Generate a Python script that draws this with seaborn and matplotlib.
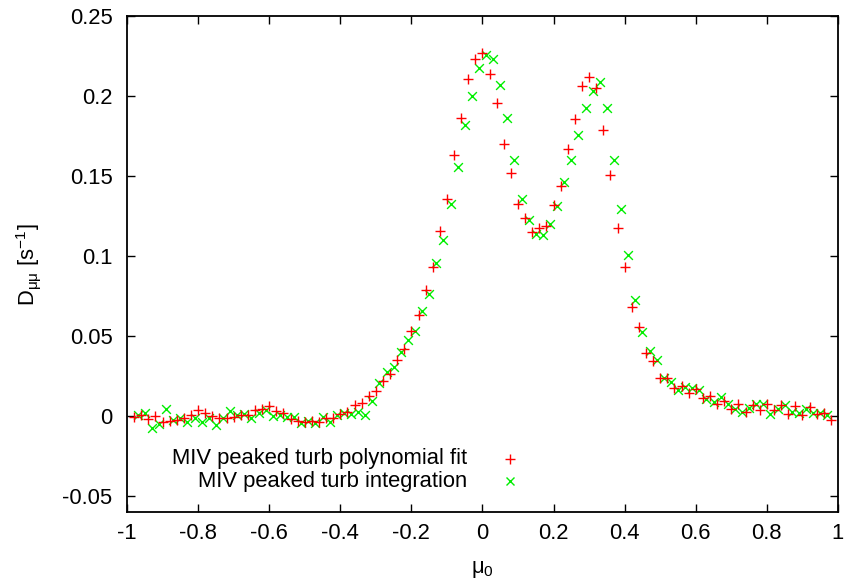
import matplotlib
matplotlib.use("Agg")
import matplotlib.pyplot as plt
import seaborn as sns
import pandas as pd

# ---- data ----
mu_fit = [-0.98, -0.96, -0.94, -0.92, -0.90, -0.88, -0.86, -0.84, -0.82, -0.80,
          -0.78, -0.76, -0.74, -0.72, -0.70, -0.68, -0.66, -0.64, -0.62, -0.60,
          -0.58, -0.56, -0.54, -0.52, -0.50, -0.48, -0.46, -0.44, -0.42, -0.40,
          -0.38, -0.36, -0.34, -0.32, -0.30, -0.28, -0.26, -0.24, -0.22, -0.20,
          -0.18, -0.16, -0.14, -0.12, -0.10, -0.08, -0.06, -0.04, -0.02, 0.00,
          0.02, 0.04, 0.06, 0.08, 0.10, 0.12, 0.14, 0.16, 0.18, 0.20,
          0.22, 0.24, 0.26, 0.28, 0.30, 0.32, 0.34, 0.36, 0.38, 0.40,
          0.42, 0.44, 0.46, 0.48, 0.50, 0.52, 0.54, 0.56, 0.58, 0.60,
          0.62, 0.64, 0.66, 0.68, 0.70, 0.72, 0.74, 0.76, 0.78, 0.80,
          0.82, 0.84, 0.86, 0.88, 0.90, 0.92, 0.94, 0.96, 0.98]
d_fit = [-0.0004, 0.0006, -0.0017, 0.0000, -0.0036, -0.0030, -0.0027, -0.0012, 0.0004, 0.0037,
         0.0021, 0.0003, -0.0013, -0.0010, -0.0006, 0.0004, 0.0008, 0.0035, 0.0044, 0.0064,
         0.0030, 0.0018, -0.0020, -0.0030, -0.0039, -0.0033, -0.0035, -0.0012, -0.0010, 0.0015,
         0.0023, 0.0067, 0.0083, 0.0127, 0.0157, 0.0220, 0.0260, 0.0348, 0.0417, 0.0534,
         0.0630, 0.0790, 0.0933, 0.1154, 0.1356, 0.1630, 0.1865, 0.2106, 0.2230, 0.2267,
         0.2135, 0.1956, 0.1700, 0.1517, 0.1323, 0.1235, 0.1148, 0.1175, 0.1190, 0.1317,
         0.1440, 0.1667, 0.1856, 0.2060, 0.2121, 0.2050, 0.1790, 0.1506, 0.1173, 0.0933,
         0.0683, 0.0554, 0.0392, 0.0344, 0.0240, 0.0235, 0.0173, 0.0188, 0.0142, 0.0167,
         0.0115, 0.0127, 0.0075, 0.0096, 0.0044, 0.0075, 0.0023, 0.0069, 0.0038, 0.0075,
         0.0038, 0.0069, 0.0013, 0.0063, 0.0006, 0.0054, 0.0013, 0.0017, -0.0025]

mu_int = [-0.97, -0.95, -0.93, -0.91, -0.89, -0.87, -0.85, -0.83, -0.81, -0.79,
          -0.77, -0.75, -0.73, -0.71, -0.69, -0.67, -0.65, -0.63, -0.61, -0.59,
          -0.57, -0.55, -0.53, -0.51, -0.49, -0.47, -0.45, -0.43, -0.41, -0.39,
          -0.37, -0.35, -0.33, -0.31, -0.29, -0.27, -0.25, -0.23, -0.21, -0.19,
          -0.17, -0.15, -0.13, -0.11, -0.09, -0.07, -0.05, -0.03, -0.01, 0.01,
          0.03, 0.05, 0.07, 0.09, 0.11, 0.13, 0.15, 0.17, 0.19, 0.21,
          0.23, 0.25, 0.27, 0.29, 0.31, 0.33, 0.35, 0.37, 0.39, 0.41,
          0.43, 0.45, 0.47, 0.49, 0.51, 0.53, 0.55, 0.57, 0.59, 0.61,
          0.63, 0.65, 0.67, 0.69, 0.71, 0.73, 0.75, 0.77, 0.79, 0.81,
          0.83, 0.85, 0.87, 0.89, 0.91, 0.93, 0.95, 0.97]
d_int = [0.0005, 0.0018, -0.0077, -0.0048, 0.0042, -0.0028, -0.0012, -0.0040, -0.0010, -0.0040,
         -0.0010, -0.0056, -0.0015, 0.0033, 0.0006, 0.0013, -0.0015, 0.0017, 0.0038, 0.0000,
         0.0006, -0.0008, -0.0004, -0.0046, -0.0030, -0.0046, -0.0004, -0.0035, 0.0006, 0.0017,
         0.0010, 0.0027, 0.0008, 0.0096, 0.0205, 0.0272, 0.0305, 0.0398, 0.0475, 0.0532,
         0.0658, 0.0760, 0.0958, 0.1100, 0.1323, 0.1558, 0.1820, 0.2000, 0.2175, 0.2256,
         0.2230, 0.2070, 0.1860, 0.1600, 0.1356, 0.1223, 0.1135, 0.1130, 0.1200, 0.1315,
         0.1460, 0.1600, 0.1756, 0.1927, 0.2033, 0.2090, 0.1927, 0.1598, 0.1294, 0.1006,
         0.0725, 0.0527, 0.0406, 0.0350, 0.0240, 0.0215, 0.0163, 0.0179, 0.0173, 0.0163,
         0.0106, 0.0085, 0.0120, 0.0075, 0.0042, 0.0023, 0.0048, 0.0075, 0.0075, 0.0010,
         0.0044, 0.0069, 0.0027, 0.0017, 0.0042, 0.0021, 0.0017, 0.0006]

label_fit = "MIV peaked turb polynomial fit"
label_int = "MIV peaked turb integration"

x_ticks = [-1, -0.8, -0.6, -0.4, -0.2, 0, 0.2, 0.4, 0.6, 0.8, 1]
x_ticklabels = ["-1", "-0.8", "-0.6", "-0.4", "-0.2", "0", "0.2", "0.4", "0.6", "0.8", "1"]
y_ticks = [-0.05, 0, 0.05, 0.1, 0.15, 0.2, 0.25]
y_ticklabels = ["-0.05", "0", "0.05", "0.1", "0.15", "0.2", "0.25"]

# ---- style ----
sns.set_style("ticks")
plt.rcParams["font.family"] = ["Liberation Sans", "DejaVu Sans"]
plt.rcParams["mathtext.fontset"] = "custom"
plt.rcParams["mathtext.rm"] = "Liberation Sans"
plt.rcParams["mathtext.it"] = "Liberation Sans:italic"
plt.rcParams["text.color"] = "black"
plt.rcParams["axes.labelcolor"] = "black"

FS = 15.8
RED = "#ff0000"
GREEN = "#00ee00"

fig = plt.figure(figsize=(8.45, 5.81), dpi=100)
ax = fig.add_axes([127 / 845, 69 / 581, 711 / 845, 496 / 581])

df_fit = pd.DataFrame({"mu": mu_fit, "D": d_fit})
df_int = pd.DataFrame({"mu": mu_int, "D": d_int})

sns.scatterplot(data=df_fit, x="mu", y="D", marker="+", color=RED, s=55,
                linewidth=1.0, ax=ax, zorder=3)
sns.scatterplot(data=df_int, x="mu", y="D", marker="x", color=GREEN, s=40,
                linewidth=1.0, ax=ax, zorder=2)

ax.set_xlim(-1, 1)
ax.set_ylim(-0.06, 0.25)
ax.set_xticks(x_ticks)
ax.set_xticklabels(x_ticklabels)
ax.set_yticks(y_ticks)
ax.set_yticklabels(y_ticklabels)
ax.tick_params(direction="in", length=6, width=1, top=True, right=True,
               labelsize=FS, colors="black")
ax.tick_params(axis="x", pad=8)
ax.tick_params(axis="y", pad=10.5)
for sp in ax.spines.values():
    sp.set_linewidth(1.3)
    sp.set_color("black")

ax.set_xlabel(r"$\mathrm{μ_0}$", fontsize=FS, color="black")
ax.set_ylabel(r"D$_{\mathrm{μμ}}$ [s$^{-1}$]", fontsize=FS, color="black")
ax.xaxis.set_label_coords(0.5, -0.095)
ax.yaxis.set_label_coords(-0.118, 0.498)

# gnuplot-style key: right-aligned text with marker sample on the right
ax.text(0.478, 0.107, label_fit, transform=ax.transAxes, ha="right", va="center",
        fontsize=FS, color="black")
ax.text(0.478, 0.0625, label_int, transform=ax.transAxes, ha="right", va="center",
        fontsize=FS, color="black")
ax.plot([0.539], [0.107], marker="+", color=RED, markersize=7.5, mew=1.0,
        transform=ax.transAxes, linestyle="none")
ax.plot([0.539], [0.0625], marker="x", color=GREEN, markersize=6.3, mew=1.0,
        transform=ax.transAxes, linestyle="none")

fig.savefig("out.png", dpi=100)
